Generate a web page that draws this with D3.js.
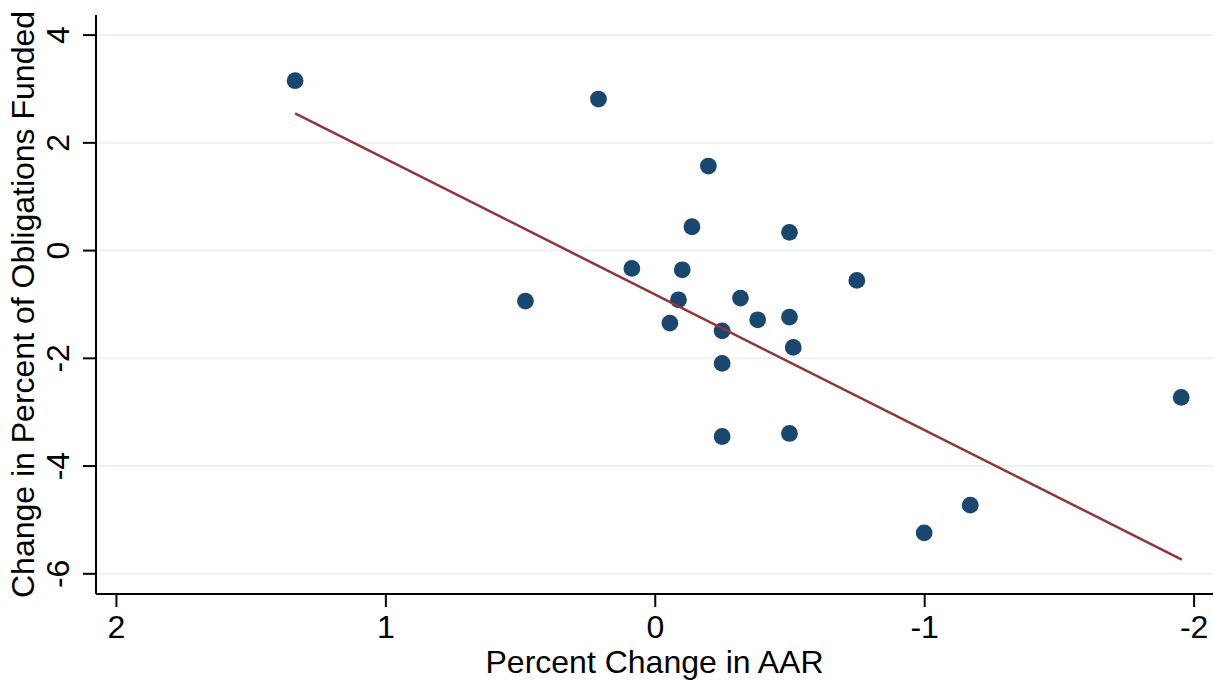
<!DOCTYPE html>
<html>
<head>
<meta charset="utf-8">
<script src="https://cdn.jsdelivr.net/npm/d3@7"></script>
<style>
  body { margin: 0; background: #fff; }
  text { font-family: "Liberation Sans", Arial, Helvetica, sans-serif; fill: #000; }
</style>
</head>
<body>
<svg width="1214" height="681"></svg>
<script>
// percent change in AAR (x) and change in percent of obligations funded (y)
const aarChange = [1.335, 0.209, -0.199, -0.138, -0.500, 0.085, -0.102, -0.750, 0.480, -0.088, -0.318,
  -0.056, -0.250, -0.382, -0.500, -0.514, -0.250, -0.250, -0.500, -1.954, -1.171, -1.000];
const fundedChange = [3.144, 2.804, 1.560, 0.433, 0.329, -0.340, -0.366, -0.563, -0.947, -0.923, -0.891,
  -1.356, -1.499, -1.294, -1.244, -1.807, -2.104, -3.460, -3.404, -2.735, -4.735, -5.250];

// fitted line end points
const fitX = [1.335, -1.956];
const fitY = [2.539, -5.744];

const xTicks = [2, 1, 0, -1, -2];
const yTicks = [-6, -4, -2, 0, 2, 4];

const svg = d3.select('svg');
const width = +svg.attr('width');
const height = +svg.attr('height');

const margin = { top: 15, right: 1, bottom: 87, left: 96 };
const innerWidth = width - margin.left - margin.right;
const innerHeight = height - margin.top - margin.bottom;

const g = svg.append('g')
  .attr('transform', `translate(${margin.left}, ${margin.top})`);

const xScale = d3.scaleLinear()
  .domain([2.074, -2.072])
  .range([0, innerWidth]);

const yScale = d3.scaleLinear()
  .domain([-6.384, 4.364])
  .range([innerHeight, 0]);

// grid lines
const grid = g.append('g')
  .call(d3.axisLeft(yScale).tickValues(yTicks).tickSize(-innerWidth).tickFormat(''));
grid.selectAll('.domain').remove();
grid.selectAll('line')
  .attr('stroke', '#eaf2f3')
  .attr('stroke-width', 2);

// y axis
const yAxisGroup = g.append('g')
  .call(d3.axisLeft(yScale).tickValues(yTicks).tickSize(13).tickFormat(d => String(d)));
yAxisGroup.select('.domain')
  .attr('stroke', '#000')
  .attr('stroke-width', 2)
  .attr('d', `M0,0V${innerHeight}`);
yAxisGroup.selectAll('line').attr('stroke', '#000').attr('stroke-width', 2);
yAxisGroup.selectAll('text')
  .attr('x', 0)
  .attr('y', -27)
  .attr('dy', 0)
  .attr('transform', 'rotate(-90)')
  .style('text-anchor', 'middle')
  .style('font-size', '32px')
  .attr('fill', '#000');

// x axis
const xAxisGroup = g.append('g')
  .attr('transform', `translate(0, ${innerHeight})`)
  .call(d3.axisBottom(xScale).tickValues(xTicks).tickSize(13).tickFormat(d => String(d)));
xAxisGroup.select('.domain')
  .attr('stroke', '#000')
  .attr('stroke-width', 2)
  .attr('d', `M0,0H${innerWidth}`);
xAxisGroup.selectAll('line').attr('stroke', '#000').attr('stroke-width', 2);
xAxisGroup.selectAll('text')
  .attr('y', 44)
  .attr('dy', 0)
  .style('font-size', '32px')
  .attr('fill', '#000');

// axis titles
g.append('text')
  .attr('x', innerWidth / 2)
  .attr('y', innerHeight + 79)
  .style('text-anchor', 'middle')
  .style('font-size', '32px')
  .text('Percent Change in AAR');

g.append('text')
  .attr('transform', `translate(${34 - margin.left}, ${innerHeight / 2}) rotate(-90)`)
  .style('text-anchor', 'middle')
  .style('font-size', '32px')
  .text('Change in Percent of Obligations Funded');

// points
g.selectAll('circle')
  .data(aarChange)
  .enter().append('circle')
    .attr('cx', d => xScale(d))
    .attr('cy', (d, i) => yScale(fundedChange[i]))
    .attr('r', 8.4)
    .attr('fill', '#1a476f');

// fitted line
const line = d3.line()
  .x(d => xScale(d[0]))
  .y(d => yScale(d[1]));

g.append('path')
  .attr('d', line(d3.zip(fitX, fitY)))
  .attr('fill', 'none')
  .attr('stroke', '#90353b')
  .attr('stroke-width', 2.5);
</script>
</body>
</html>
